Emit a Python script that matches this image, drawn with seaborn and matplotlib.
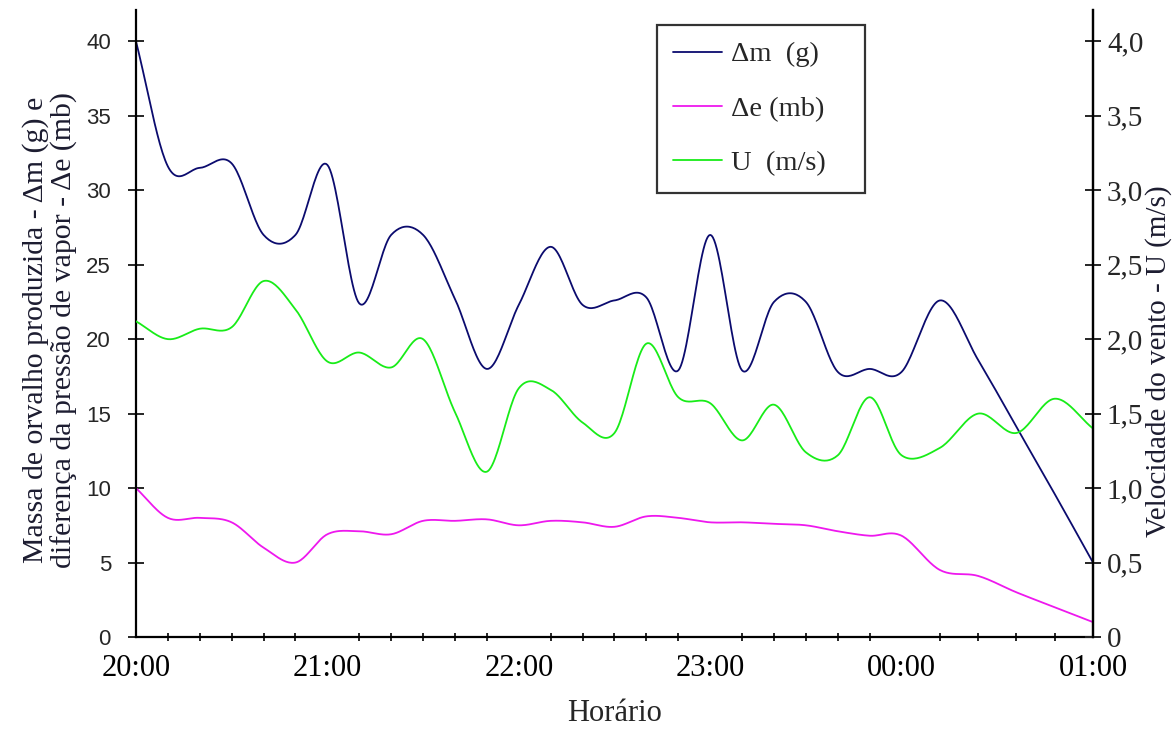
import numpy as np
import pandas as pd
import matplotlib
matplotlib.use("Agg")
import matplotlib.pyplot as plt
import seaborn as sns
from matplotlib.ticker import FixedLocator, FuncFormatter
from matplotlib.lines import Line2D

# Observation times, minutes after 20:00
minutes = [0, 10, 20, 30, 40, 50, 60, 70, 80, 90, 100, 110, 120, 130, 140, 150,
           160, 170, 180, 190, 200, 210, 220, 230, 240, 252, 264, 276, 288, 300]

# Dew mass produced (g)
delta_m = [40.0, 31.6, 31.5, 31.8, 27.0, 27.0, 31.7, 22.4, 27.0, 27.0, 22.7, 18.0,
           22.3, 26.2, 22.3, 22.6, 22.8, 17.9, 27.0, 17.9, 22.5, 22.5, 17.8, 18.0,
           17.8, 22.6, 18.6, 14.1, 9.6, 5.0]

# Vapour pressure difference (mb)
delta_e = [10.0, 8.0, 8.0, 7.7, 6.0, 5.0, 6.9, 7.1, 6.9, 7.8, 7.8, 7.9, 7.5, 7.8,
           7.7, 7.4, 8.1, 8.0, 7.7, 7.7, 7.6, 7.5, 7.1, 6.8, 6.8, 4.5, 4.1, 3.0,
           2.0, 1.0]

# Wind speed (m/s)
wind_u = [2.12, 2.00, 2.07, 2.08, 2.39, 2.20, 1.85, 1.91, 1.81, 2.00, 1.51, 1.11,
          1.67, 1.66, 1.44, 1.37, 1.97, 1.61, 1.57, 1.32, 1.56, 1.24, 1.22, 1.61,
          1.22, 1.27, 1.50, 1.37, 1.60, 1.40]

hour_labels = ["20:00", "21:00", "22:00", "23:00", "00:00", "01:00"]
series_names = ["\u0394m  (g)", "\u0394e (mb)", "U  (m/s)"]
series_colors = ["#0b0b6e", "#ee18ee", "#18ec18"]
text_color = "#1c1c30"


def smooth_curve(x, y, steps=24):
    """Catmull-Rom curve through every observation (smoothed line style)."""
    x = np.asarray(x, float)
    y = np.asarray(y, float)
    px = np.concatenate([[2 * x[0] - x[1]], x, [2 * x[-1] - x[-2]]])
    py = np.concatenate([[2 * y[0] - y[1]], y, [2 * y[-1] - y[-2]]])
    t = np.linspace(0, 1, steps, endpoint=False)
    xs, ys = [], []
    for i in range(1, len(px) - 2):
        for p, out in ((px, xs), (py, ys)):
            p0, p1, p2, p3 = p[i - 1], p[i], p[i + 1], p[i + 2]
            out.append(0.5 * (2 * p1 + (-p0 + p2) * t
                              + (2 * p0 - 5 * p1 + 4 * p2 - p3) * t ** 2
                              + (-p0 + 3 * p1 - 3 * p2 + p3) * t ** 3))
    xs.append([x[-1]])
    ys.append([y[-1]])
    return np.concatenate(xs), np.concatenate(ys)


sns.set_theme(style="white")
plt.rcParams["font.family"] = ["Liberation Serif", "DejaVu Serif"]

fig = plt.figure(figsize=(11.72, 7.46), dpi=100)
ax = fig.add_axes([0.116, 0.1461, 0.8166, 0.8405])
ax2 = ax.twinx()

frames = {}
for name, vals in zip(series_names, [delta_m, delta_e, wind_u]):
    sx, sy = smooth_curve(minutes, vals)
    frames[name] = pd.DataFrame({"minuto": sx, "valor": sy})

sns.lineplot(data=frames[series_names[0]], x="minuto", y="valor", ax=ax,
             color=series_colors[0], linewidth=1.3, sort=False, estimator=None)
sns.lineplot(data=frames[series_names[1]], x="minuto", y="valor", ax=ax,
             color=series_colors[1], linewidth=1.3, sort=False, estimator=None)
sns.lineplot(data=frames[series_names[2]], x="minuto", y="valor", ax=ax2,
             color=series_colors[2], linewidth=1.3, sort=False, estimator=None)

ax.set_xlim(0, 300)
ax.set_ylim(0, 42.1)
ax2.set_ylim(0, 4.21)

for a in (ax, ax2):
    a.set_facecolor("none")
    for s in a.spines.values():
        s.set_color("black")
        s.set_linewidth(1.6)
    a.spines["top"].set_visible(False)
ax2.spines["left"].set_visible(False)
ax2.spines["bottom"].set_visible(False)

# x axis: hourly labels, minor ticks at each observation
ax.xaxis.set_major_locator(FixedLocator([0, 60, 120, 180, 240, 300]))
ax.set_xticklabels(hour_labels, fontsize=22)
ax.xaxis.set_minor_locator(FixedLocator([m for m in minutes if m % 60]))
ax.tick_params(axis="x", which="major", direction="inout", length=16, width=1.6,
               pad=4, colors="black")
ax.tick_params(axis="x", which="minor", direction="inout", length=6, width=1.4,
               bottom=True)

ax.yaxis.set_major_locator(FixedLocator(np.arange(0, 41, 5)))
ax.tick_params(axis="y", direction="inout", length=12, width=1.4, pad=12,
               left=True, labelsize=16)
for lab in ax.get_yticklabels():
    lab.set_fontfamily("Liberation Sans")

ax2.yaxis.set_major_locator(FixedLocator(np.arange(0, 4.01, 0.5)))
ax2.yaxis.set_major_formatter(FuncFormatter(
    lambda v, _: "0" if abs(v) < 1e-9 else f"{v:.1f}".replace(".", ",")))
ax2.tick_params(axis="y", direction="inout", length=12, width=1.4, pad=4,
                right=True, labelsize=21)

ax.set_xlabel("Horário", fontsize=22, labelpad=12)
ax.set_ylabel("Massa de orvalho produzida - \u0394m (g) e\n"
              "diferença da pressão de vapor - \u0394e (mb)",
              fontsize=21.5, linespacing=1.05, color=text_color)
ax.yaxis.set_label_coords(-0.061, 0.49)
ax2.set_ylabel("Velocidade do vento - U (m/s)", fontsize=21, color=text_color)
ax2.yaxis.set_label_coords(1.054, 0.44)

handles = [Line2D([], [], color=c, linewidth=1.3) for c in series_colors]
leg = ax2.legend(handles, series_names, loc="upper left",
                 bbox_to_anchor=(0.544, 0.70, 0.2173, 0.276), mode="expand",
                 frameon=True, fancybox=False,
                 fontsize=20.5, handlelength=1.7, handletextpad=0.35,
                 labelspacing=1.0, borderpad=0.58, borderaxespad=0)
leg.get_frame().set_edgecolor("black")
leg.get_frame().set_linewidth(1.6)

fig.savefig("out.png", dpi=100, facecolor="white")
